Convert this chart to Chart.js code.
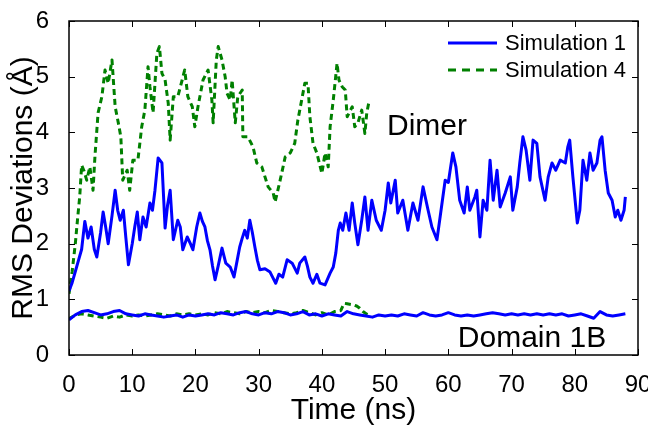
<!DOCTYPE html>
<html><head><meta charset="utf-8">
<script src="https://cdn.jsdelivr.net/npm/chart.js@4/dist/chart.umd.min.js"></script>
<style>html,body{margin:0;padding:0;background:#fff}canvas{display:block}</style>
</head><body>
<canvas id="c" width="648" height="430"></canvas>
<script>
// ---- data (time in ns, RMSD in Å) ----
const sim1DimerTime = [0,0.5,1,1.5,2,2.5,3,3.5,4,4.4,5,5.4,5.8,6.2,6.8,7.3,7.7,8.1,8.6,9,9.4,10,10.4,10.8,11.2,11.7,12.2,12.8,13.2,13.6,14.1,14.7,15.2,15.6,16,16.5,17.2,17.6,18,18.7,19.2,19.6,20.2,20.7,21.1,21.5,21.9,22.3,22.7,23.1,23.6,24.2,24.8,25.5,26.1,26.6,27,27.4,27.8,28.2,28.6,29,29.4,29.8,30.2,31,31.8,32.2,32.7,33.2,33.8,34.5,35.3,36.1,36.5,37.3,37.7,38.1,38.6,39.2,39.7,40.5,41.3,41.8,42.2,42.6,42.9,43.3,43.8,44.3,44.8,45.2,45.7,46.3,46.8,47.3,47.9,48.6,49.4,50,50.5,50.9,51.6,52,52.8,53.6,54.4,55.2,56,56.8,57.4,58.2,58.7,59.5,60,60.7,61.2,61.8,62.5,63,63.4,64.2,64.5,65,65.5,66.1,66.6,67.1,67.7,68.2,69,69.8,70.2,70.9,71.3,71.8,72.3,72.9,73.4,74,74.5,75.3,75.8,76.4,77,77.7,78.5,78.9,79.2,79.7,80.4,80.8,81.3,81.9,82.4,82.9,83.5,84,84.3,84.8,85.3,85.9,86.4,86.8,87.3,87.8,88];
const sim1Dimer = [1.15,1.3,1.5,1.7,1.9,2.4,2.1,2.3,1.9,1.76,2.2,2.57,2.3,2.0,2.5,2.96,2.6,2.42,2.6,2.1,1.62,2.0,2.3,2.57,2.07,2.48,2.3,2.73,2.6,2.96,3.54,3.45,2.28,2.7,2.96,2.07,2.42,2.3,1.89,2.12,2.0,1.89,2.3,2.55,2.4,2.3,2.05,1.89,1.6,1.35,1.6,1.92,1.65,1.58,1.4,1.7,1.94,2.1,2.24,2.1,2.42,2.2,1.94,1.7,1.53,1.55,1.49,1.4,1.29,1.45,1.4,1.71,1.65,1.47,1.65,1.76,1.6,1.4,1.29,1.45,1.29,1.26,1.47,1.58,1.83,2.24,2.37,2.24,2.55,2.24,2.73,2.37,1.98,2.42,2.84,2.24,2.78,2.42,2.24,2.6,3.09,2.73,3.14,2.55,2.78,2.24,2.73,2.42,3.02,2.6,2.3,2.07,2.48,3.14,3.1,3.63,3.38,2.78,2.55,3.02,2.6,2.84,2.96,2.12,2.78,2.6,3.5,2.78,3.32,2.66,2.91,3.2,2.6,3.02,3.45,3.92,3.68,3.14,3.86,3.8,3.2,2.78,3.2,3.45,3.32,3.5,3.45,3.74,3.86,3.2,2.37,2.6,3.5,3.14,3.63,3.32,3.45,3.86,3.92,3.32,2.91,2.78,2.48,2.6,2.42,2.6,2.84];

const sim4DimerTime = [0,0.5,1,1.4,1.7,2,2.4,2.8,3.3,3.8,4.1,4.6,5.2,5.7,6.2,6.8,7.3,7.8,8.2,8.5,9.2,9.6,10.1,10.9,11.5,12,12.5,12.8,13.3,13.9,14.3,14.7,15.2,15.7,16,16.5,17.2,17.9,18.3,18.8,19.5,19.9,20.4,21.2,22,22.6,22.8,23.3,23.6,24.2,24.7,25,25.5,25.8,26.3,26.7,27.4,27.5,28.3,29.1,29.7,30.5,31,31.5,32.3,32.6,33.4,34.2,35,35.7,36.2,36.9,37.3,37.8,38.1,38.6,39.2,40,40.5,41,41.3,41.8,42.4,42.7,43.2,43.7,44,44.8,45.2,45.7,46.3,46.8,47.1,47.5];
const sim4Dimer = [1.1,1.5,2.0,2.5,2.85,3.41,3.3,3.14,3.38,2.96,3.56,4.35,4.64,5.12,4.88,5.3,4.46,4.17,3.92,3.14,3.32,2.96,3.5,3.5,4.1,4.4,5.18,4.82,4.35,5.42,5.54,5.06,4.94,4.52,3.86,4.64,4.64,4.94,5.12,4.64,4.46,4.1,4.46,4.94,5.12,4.58,4.17,5.3,5.54,5.3,5.0,4.7,4.58,4.94,4.17,4.64,4.76,3.92,3.92,3.74,3.45,3.38,3.2,3.02,2.91,2.75,3.14,3.56,3.63,3.8,4.22,4.64,4.88,4.88,4.28,3.8,3.63,3.26,3.63,3.38,4.1,4.58,5.24,4.94,4.82,4.76,4.28,4.46,4.1,4.17,4.4,3.98,4.35,4.58];

const sim1DomainTime = [0,1,2,3,4,5,6,7,8,9,10,11,12,13,14,15,16,17,18,19,20,21,22,23,24,25,26,27,28,29,30,31,32,33,34,35,36,37,38,39,40,41,42,43,44,45,46,47,48,49,50,51,52,53,54,55,56,57,58,59,60,61,62,63,64,65,66,67,68,69,70,71,72,73,74,75,76,77,78,79,80,81,82,83,84,85,86,87,88];
const sim1Domain = [0.63,0.72,0.78,0.80,0.76,0.72,0.74,0.78,0.80,0.74,0.72,0.70,0.74,0.72,0.70,0.68,0.70,0.72,0.68,0.72,0.70,0.72,0.74,0.72,0.76,0.74,0.72,0.76,0.78,0.74,0.72,0.76,0.74,0.78,0.76,0.72,0.74,0.78,0.72,0.74,0.70,0.74,0.72,0.70,0.78,0.74,0.72,0.70,0.68,0.72,0.70,0.72,0.70,0.74,0.72,0.70,0.76,0.72,0.70,0.72,0.76,0.72,0.70,0.72,0.70,0.72,0.74,0.76,0.74,0.72,0.74,0.72,0.74,0.72,0.74,0.72,0.74,0.72,0.74,0.70,0.72,0.74,0.70,0.66,0.78,0.72,0.70,0.72,0.74];

const sim4DomainTime = [0,1,2,3,4,5,6,7,8,9,10,11,12,13,14,15,16,17,18,19,20,21,22,23,24,25,26,27,28,29,30,31,32,33,34,35,36,37,38,39,40,41,42,43,43.5,44,45,45.5,46,46.5,47,47.5];
const sim4Domain = [0.65,0.72,0.74,0.72,0.70,0.68,0.66,0.70,0.68,0.72,0.70,0.72,0.70,0.72,0.74,0.72,0.70,0.74,0.72,0.74,0.72,0.74,0.72,0.76,0.74,0.78,0.76,0.74,0.78,0.76,0.78,0.76,0.80,0.78,0.76,0.74,0.76,0.80,0.76,0.72,0.76,0.72,0.78,0.80,0.93,0.92,0.90,0.88,0.84,0.78,0.74,0.72];

const xTicks = [0,10,20,30,40,50,60,70,80,90];
const yTicks = [0,1,2,3,4,5,6];
const seriesNames = ['Simulation 1','Simulation 4'];
const regionLabels = ['Dimer','Domain 1B'];

const BLUE = '#0000ff', GREEN = '#008000';
const FONT = "'Liberation Sans', Arial, Helvetica, sans-serif";
const pts = (t, v) => t.map((x, i) => ({x, y: v[i]}));

const frame = {
  id: 'frame',
  afterDatasetsDraw(chart) {
    const {ctx, chartArea: a, scales: {x, y}} = chart;
    ctx.save();
    ctx.strokeStyle = '#000'; ctx.lineWidth = 1.5;
    ctx.strokeRect(a.left, a.top, a.right - a.left, a.bottom - a.top);
    ctx.lineWidth = 1;
    ctx.beginPath();
    xTicks.forEach(t => { const p = Math.round(x.getPixelForValue(t)) + 0.5;
      ctx.moveTo(p, a.bottom); ctx.lineTo(p, a.bottom - 6);
      ctx.moveTo(p, a.top); ctx.lineTo(p, a.top + 6); });
    yTicks.forEach(t => { const p = Math.round(y.getPixelForValue(t)) + 0.5;
      ctx.moveTo(a.left, p); ctx.lineTo(a.left + 6, p);
      ctx.moveTo(a.right, p); ctx.lineTo(a.right - 6, p); });
    ctx.stroke();
    // region labels
    ctx.fillStyle = '#000';
    ctx.font = '30px ' + FONT;
    ctx.textBaseline = 'alphabetic';
    ctx.fillText(regionLabels[0], x.getPixelForValue(50.3), y.getPixelForValue(3.95));
    ctx.fillText(regionLabels[1], x.getPixelForValue(61.5), y.getPixelForValue(0.14));
    // legend
    ctx.font = '22px ' + FONT;
    const rows = [{c: BLUE, d: [], ty: 50, ly: 43}, {c: GREEN, d: [8, 6], ty: 77, ly: 70}];
    rows.forEach((r, i) => {
      ctx.strokeStyle = r.c; ctx.lineWidth = 3; ctx.setLineDash(r.d);
      ctx.beginPath(); ctx.moveTo(448, r.ly); ctx.lineTo(497, r.ly); ctx.stroke();
      ctx.setLineDash([]);
      ctx.fillText(seriesNames[i], 505, r.ty);
    });
    ctx.restore();
  }
};

new Chart(document.getElementById('c'), {
  type: 'line',
  data: {
    datasets: [
      {label: seriesNames[0], data: pts(sim1DimerTime, sim1Dimer), borderColor: BLUE, borderWidth: 3},
      {label: seriesNames[1], data: pts(sim4DimerTime, sim4Dimer), borderColor: GREEN, borderWidth: 3, borderDash: [6, 4]},
      {label: seriesNames[0] + ' domain', data: pts(sim1DomainTime, sim1Domain), borderColor: BLUE, borderWidth: 3},
      {label: seriesNames[1] + ' domain', data: pts(sim4DomainTime, sim4Domain), borderColor: GREEN, borderWidth: 3, borderDash: [6, 4]}
    ]
  },
  options: {
    responsive: false, animation: false,
    layout: {padding: {top: 21, right: 10, left: 0, bottom: 0}},
    elements: {point: {radius: 0}, line: {tension: 0, borderJoinStyle: 'round'}},
    plugins: {legend: {display: false}, tooltip: {enabled: false}},
    scales: {
      x: {type: 'linear', min: 0, max: 90,
        afterFit: s => { s.height = 75; s.paddingLeft = 0; s.paddingRight = 0; },
        afterBuildTicks: s => { s.ticks = xTicks.map(v => ({value: v})); },
        grid: {display: false}, border: {display: false},
        ticks: {color: '#000', padding: 8, font: {family: FONT, size: 24}},
        title: {display: true, text: 'Time (ns)', color: '#000', font: {family: FONT, size: 30}, padding: {top: 0, bottom: 1}}},
      y: {type: 'linear', min: 0, max: 6,
        afterFit: s => { s.width = 69; s.paddingTop = 0; s.paddingBottom = 0; },
        afterBuildTicks: s => { s.ticks = yTicks.map(v => ({value: v})); },
        grid: {display: false}, border: {display: false},
        ticks: {color: '#000', padding: 12, font: {family: FONT, size: 24}},
        title: {display: true, text: 'RMS Deviations (Å)', color: '#000', font: {family: FONT, size: 30}, padding: {top: 6, bottom: 0}}}
    }
  },
  plugins: [frame]
});
</script>
</body></html>
